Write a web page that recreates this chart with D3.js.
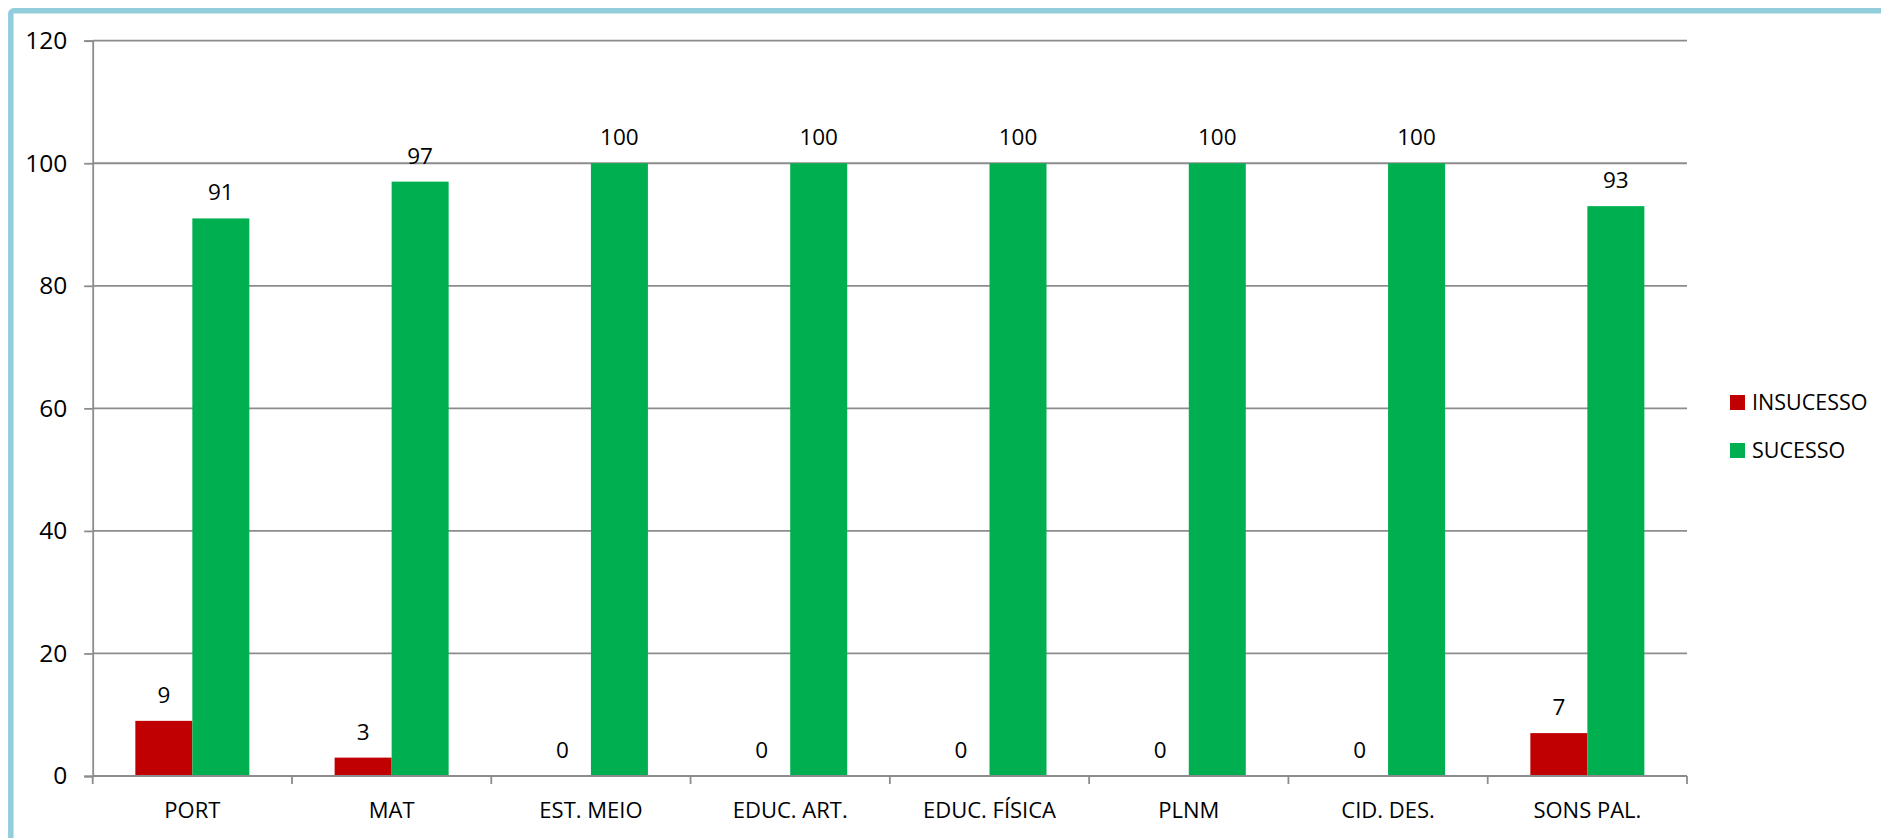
<!DOCTYPE html>
<html>
<head>
<meta charset="utf-8">
<script src="https://cdn.jsdelivr.net/npm/d3@7"></script>
<style>
  html, body { margin: 0; padding: 0; background: #fff; }
  svg { display: block; }
  text { font-family: "Open Sans", "Noto Sans", sans-serif; fill: #000; }
</style>
</head>
<body>
<svg id="chart" width="1881" height="838"></svg>
<script>
const categories = ["PORT", "MAT", "EST. MEIO", "EDUC. ART.", "EDUC. FÍSICA", "PLNM", "CID. DES.", "SONS PAL."];
const seriesNames = ["INSUCESSO", "SUCESSO"];
const insucesso = [9, 3, 0, 0, 0, 0, 0, 7];
const sucesso = [91, 97, 100, 100, 100, 100, 100, 93];
const yTicks = [0, 20, 40, 60, 80, 100, 120];
const colors = ["#C00000", "#00B050"];

const plotLeft = 92.7, plotRight = 1687, plotTop = 40.7, plotBottom = 776;

const svg = d3.select("#chart");

// frame
svg.append("rect")
  .attr("x", 10.8).attr("y", 10.8)
  .attr("width", 2000).attr("height", 1000)
  .attr("rx", 3)
  .attr("fill", "none")
  .attr("stroke", "#92CDDC")
  .attr("stroke-width", 5.5);

const x0 = d3.scaleBand().domain(categories).range([plotLeft, plotRight]).paddingInner(0).paddingOuter(0);
const x1 = d3.scaleBand().domain(seriesNames).range([0, x0.bandwidth()]).paddingInner(0).paddingOuter(0.748);
const y = d3.scaleLinear().domain([0, 120]).range([plotBottom, plotTop]);

const gridColor = "#8C8C8C";

// gridlines
svg.append("g").selectAll("line").data(yTicks.filter(d => d > 0)).join("line")
  .attr("x1", plotLeft).attr("x2", plotRight)
  .attr("y1", d => y(d)).attr("y2", d => y(d))
  .attr("stroke", gridColor).attr("stroke-width", 1.8);

// y axis
const yAxis = d3.axisLeft(y).tickValues(yTicks).tickSize(8.5).tickPadding(17).tickFormat(d3.format("d"));
const gy = svg.append("g").attr("transform", `translate(${plotLeft},0)`).call(yAxis);
gy.select(".domain").attr("stroke", gridColor).attr("stroke-width", 1.8);
gy.selectAll(".tick line").attr("stroke", gridColor).attr("stroke-width", 1.8);
gy.selectAll(".tick text").style("font-size", "24.5px").attr("fill", "#000");

// bars
const data = categories.map((c, i) => ({ cat: c, vals: [insucesso[i], sucesso[i]] }));
const groups = svg.append("g").selectAll("g").data(data).join("g")
  .attr("transform", d => `translate(${x0(d.cat)},0)`);

groups.selectAll("rect").data(d => d.vals.map((v, j) => ({ s: seriesNames[j], v, j }))).join("rect")
  .attr("x", d => x1(d.s))
  .attr("width", x1.bandwidth())
  .attr("y", d => y(d.v))
  .attr("height", d => y(0) - y(d.v))
  .attr("fill", d => colors[d.j]);

groups.selectAll("text.lbl").data(d => d.vals.map((v, j) => ({ s: seriesNames[j], v, j }))).join("text")
  .attr("class", "lbl")
  .attr("x", d => x1(d.s) + x1.bandwidth() / 2)
  .attr("y", d => y(d.v) - 18)
  .attr("text-anchor", "middle")
  .style("font-size", "22.5px")
  .text(d => d.v);

// x axis
const xAxis = d3.axisBottom(x0).tickSize(0).tickPadding(0);
const gx = svg.append("g").attr("transform", `translate(0,${plotBottom})`).call(xAxis);
gx.select(".domain").remove();
gx.selectAll(".tick text").attr("y", 42).attr("dy", 0)
  .style("font-size", "22px").attr("fill", "#000");
svg.append("line").attr("x1", plotLeft).attr("x2", plotRight).attr("y1", plotBottom).attr("y2", plotBottom)
  .attr("stroke", gridColor).attr("stroke-width", 1.8);
const boundaries = categories.map(c => x0(c)).concat([x0(categories[categories.length - 1]) + x0.bandwidth()]);
svg.append("g").selectAll("line").data(boundaries).join("line")
  .attr("x1", d => d).attr("x2", d => d)
  .attr("y1", plotBottom).attr("y2", plotBottom + 8)
  .attr("stroke", gridColor).attr("stroke-width", 1.8);

// legend
const legend = svg.append("g").selectAll("g").data(seriesNames).join("g")
  .attr("transform", (d, i) => `translate(1730,${395 + i * 48})`);
legend.append("rect").attr("width", 15).attr("height", 15).attr("fill", (d, i) => colors[i]);
legend.append("text").attr("x", 22).attr("y", 15).style("font-size", "21.5px").text(d => d);
</script>
</body>
</html>
